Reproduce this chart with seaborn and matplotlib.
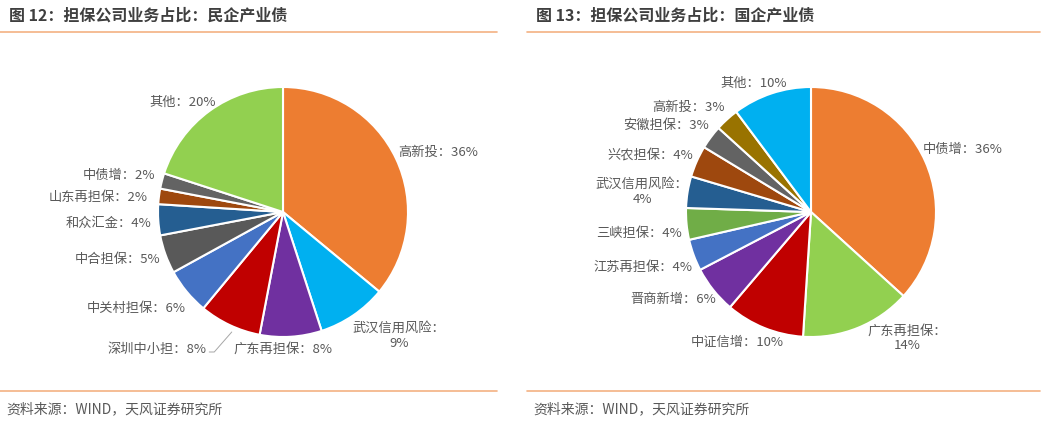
import matplotlib
matplotlib.use("Agg")
import matplotlib.pyplot as plt
import seaborn as sns

# left chart: private industrial bonds
left_names = ["高新投", "武汉信用风险", "广东再担保", "深圳中小担", "中关村担保",
              "中合担保", "和众汇金", "山东再担保", "中债增", "其他"]
left_values = [36, 9, 8, 8, 6, 5, 4, 2, 2, 20]
left_colors = ["#ED7D31", "#00B0F0", "#7030A0", "#C00000", "#4472C4",
               "#595959", "#255E91", "#9E480E", "#636363", "#92D050"]

# right chart: state-owned industrial bonds
right_names = ["中债增", "广东再担保", "中证信增", "晋商新增", "江苏再担保", "三峡担保",
               "武汉信用风险", "兴农担保", "安徽担保", "高新投", "其他"]
right_values = [36, 14, 10, 6, 4, 4, 4, 4, 3, 3, 10]
right_colors = ["#ED7D31", "#92D050", "#C00000", "#7030A0", "#4472C4", "#70AD47",
                "#255E91", "#9E480E", "#636363", "#997300", "#00B0F0"]

titles = ["图 12：担保公司业务占比：民企产业债", "图 13：担保公司业务占比：国企产业债"]
source = "资料来源：WIND，天风证券研究所"

# label placement (pie radius = 1): x, y, horizontal alignment, wrapped?
left_label_pos = [(0.92, 0.48, "left", False), (0.93, -0.99, "center", True),
                  (0.0, -1.10, "center", False), (-0.61, -1.10, "right", False),
                  (-0.78, -0.77, "right", False), (-0.98, -0.38, "right", False),
                  (-1.05, -0.09, "right", False), (-1.08, 0.12, "right", False),
                  (-1.02, 0.29, "right", False), (-0.54, 0.88, "right", False)]
right_label_pos = [(0.89, 0.50, "left", False), (0.77, -1.01, "center", True),
                   (-0.22, -1.04, "right", False), (-0.76, -0.70, "right", False),
                   (-0.95, -0.44, "right", False), (-1.03, -0.17, "right", False),
                   (-1.35, 0.16, "center", True), (-0.94, 0.45, "right", False),
                   (-0.82, 0.69, "right", False), (-0.69, 0.84, "right", False),
                   (-0.19, 1.03, "right", False)]

sns.set_theme(style="white")
plt.rcParams['font.family'] = ['Noto Sans CJK SC', 'DejaVu Sans']

W, H = 1047, 425
fig = plt.figure(figsize=(W / 100, H / 100), dpi=100)

LINE = "#F4B183"
GREY = "#595959"


def draw_pie(ax, names, values, colors, label_pos):
    ax.pie(values, colors=colors, startangle=90, counterclock=False,
           wedgeprops=dict(edgecolor="white", linewidth=1.5))
    for n, v, (x, y, ha, wrap) in zip(names, values, label_pos):
        txt = f"{n}：\n{v}%" if wrap else f"{n}：{v}%"
        ax.text(x, y, txt, ha=ha, va="center", fontsize=9.5, color=GREY,
                multialignment="center", linespacing=1.2)
    ax.set_xlim(-1, 1)
    ax.set_ylim(-1, 1)
    ax.set_aspect("equal")
    ax.axis("off")


panels = [
    (0, 497, 158, left_names, left_values, left_colors, left_label_pos),
    (527, 1040, 686, right_names, right_values, right_colors, right_label_pos),
]
axes = []
for i, (x0, x1, pie_left, names, values, colors, pos) in enumerate(panels):
    # header and footer
    fig.text((x0 + 9) / W, 1 - 16 / H, titles[i], fontsize=11.5, fontweight="bold",
             color="#3F3F3F", va="center", ha="left")
    fig.add_artist(plt.Line2D([x0 / W, x1 / W], [1 - 32 / H] * 2, color=LINE, lw=1.2))
    fig.add_artist(plt.Line2D([x0 / W, x1 / W], [1 - 391 / H] * 2, color=LINE, lw=1.2))
    fig.text((x0 + 6) / W, 1 - 409 / H, source, fontsize=10, color=GREY,
             va="center", ha="left")

    ax = fig.add_axes([pie_left / W, (H - 337) / H, 250 / W, 250 / H])
    draw_pie(ax, names, values, colors, pos)
    axes.append(ax)

# leader line for the 深圳中小担 label
axes[0].plot([-0.59, -0.55, -0.41], [-1.12, -1.12, -0.96], color="#A6A6A6",
             lw=0.7, clip_on=False)

fig.savefig("out.png", dpi=100)
